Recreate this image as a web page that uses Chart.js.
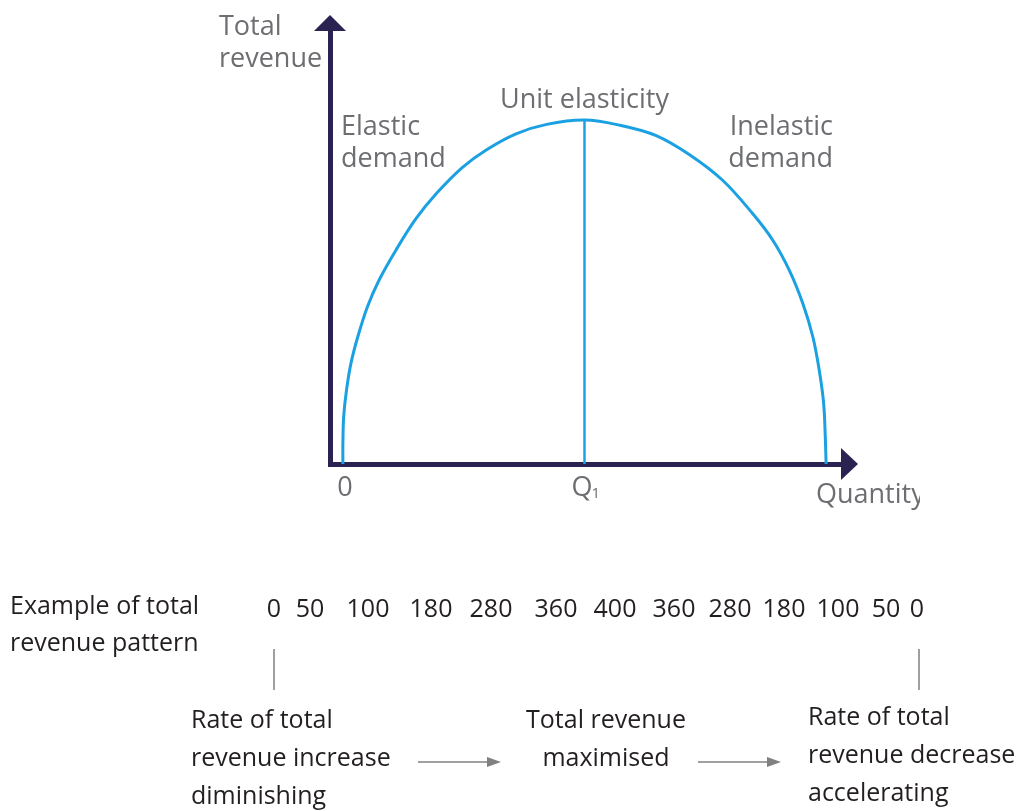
<!DOCTYPE html>
<html>
<head>
<meta charset="utf-8">
<script src="https://cdn.jsdelivr.net/npm/chart.js@4.4.1/dist/chart.umd.min.js"></script>
<style>
  body { margin: 0; background: #fff; }
  #wrap { position: relative; width: 1021px; height: 811px; overflow: hidden; font-family: "Open Sans", sans-serif; color: #231f20; }
  #c { position: absolute; left: 0; top: 0; }
  .txt { position: absolute; font-size: 25px; line-height: 38px; white-space: nowrap; }
  .num { position: absolute; top: 588px; font-size: 25px; line-height: 38px; transform: translateX(-50%); }
</style>
</head>
<body>
<div id="wrap">
  <canvas id="c" width="1021" height="811"></canvas>
  <div class="txt" style="left:10px; top:586px; line-height:37px;">Example of total<br>revenue pattern</div>
  <div id="pattern"></div>
  <div class="txt" style="left:191px; top:699px;">Rate of total<br>revenue increase<br>diminishing</div>
  <div class="txt" style="left:516px; top:699px; text-align:center; width:180px;">Total revenue<br>maximised</div>
  <div class="txt" style="left:808px; top:696px;">Rate of total<br>revenue decrease<br>accelerating</div>
</div>
<script>
// total revenue curve (quantity units, revenue units with peak = 400)
const quantity = [0, 0, 0.02, 0.09, 0.2, 0.37, 0.61, 0.9, 1.32, 1.81, 2.31, 2.97, 3.55, 4.3, 5.06, 6,
                  6.88, 7.78, 8.6, 9.43, 10.18, 10.68, 11.09, 11.42, 11.67, 11.83, 11.94, 11.98, 12];
const revenue  = [0, 24, 55, 86, 117, 148, 183, 214, 249, 285, 314, 345, 365, 384, 395, 400,
                  394, 382, 360, 330, 291, 260, 225, 187, 148, 109, 70, 31, 0];

// unit elasticity point
const q1 = 6;
const maxRevenue = 400;

// example row under the chart
const revenuePattern = [0, 50, 100, 180, 280, 360, 400, 360, 280, 180, 100, 50, 0];
const patternX = [274, 310, 368, 431, 491, 556, 615, 674, 730, 784, 838, 886, 917];

const navy = '#2a2352';
const blue = '#1ba1e2';
const grey = '#6d6e71';

// numbers row as text
const row = document.getElementById('pattern');
revenuePattern.forEach((v, i) => {
    const s = document.createElement('span');
    s.className = 'num';
    s.style.left = patternX[i] + 'px';
    s.textContent = v;
    row.appendChild(s);
});

function arrow(ctx, x1, x2, y) {
    ctx.beginPath();
    ctx.moveTo(x1, y);
    ctx.lineTo(x2 - 12, y);
    ctx.stroke();
    ctx.beginPath();
    ctx.moveTo(x2, y);
    ctx.lineTo(x2 - 14, y - 5);
    ctx.lineTo(x2 - 14, y + 5);
    ctx.closePath();
    ctx.fill();
}

const decor = {
    id: 'decor',
    afterDraw(chart) {
        const {ctx, chartArea: a, scales: {x}} = chart;
        ctx.save();
        // arrow heads on the axes
        ctx.fillStyle = navy;
        ctx.beginPath();
        ctx.moveTo(a.left, a.top - 16);
        ctx.lineTo(a.left - 16, a.top);
        ctx.lineTo(a.left + 16, a.top);
        ctx.closePath();
        ctx.fill();
        ctx.beginPath();
        ctx.moveTo(a.right + 17, a.bottom);
        ctx.lineTo(a.right, a.bottom - 16);
        ctx.lineTo(a.right, a.bottom + 16);
        ctx.closePath();
        ctx.fill();

        // labels
        ctx.fillStyle = grey;
        ctx.font = '27px "Open Sans"';
        ctx.textAlign = 'left';
        ctx.fillText('Total', 219, 35);
        ctx.fillText('revenue', 219, 67);
        ctx.fillText('Elastic', 341, 135);
        ctx.fillText('demand', 341, 167);
        ctx.textAlign = 'right';
        ctx.fillText('Inelastic', 833, 135);
        ctx.fillText('demand', 833, 167);
        ctx.textAlign = 'center';
        const qx = x.getPixelForValue(q1);
        ctx.fillText('Unit elasticity', qx, 108);
        ctx.fillText('0', x.getPixelForValue(0) + 2, 496);
        ctx.textAlign = 'left';
        ctx.fillText('Q', qx - 13, 496);
        ctx.font = '15px "Open Sans"';
        ctx.fillText('1', qx + 7, 498);
        ctx.font = '27px "Open Sans"';
        ctx.beginPath();
        ctx.rect(0, 0, 920, 811);
        ctx.clip();
        ctx.fillText('Quantity', 816, 503);
        ctx.restore();

        // bottom connectors
        ctx.save();
        ctx.strokeStyle = '#808080';
        ctx.fillStyle = '#808080';
        ctx.lineWidth = 1.5;
        ctx.beginPath();
        ctx.moveTo(274, 649);
        ctx.lineTo(274, 690);
        ctx.moveTo(919, 649);
        ctx.lineTo(919, 690);
        ctx.stroke();
        arrow(ctx, 418, 501, 762);
        arrow(ctx, 698, 781, 762);
        ctx.restore();
    }
};

new Chart(document.getElementById('c'), {
    type: 'scatter',
    data: {
        datasets: [{
            data: quantity.map((q, i) => ({x: q, y: revenue[i]})),
            showLine: true,
            borderColor: blue,
            borderWidth: 3,
            pointRadius: 0,
            tension: 0.35
        }, {
            data: [{x: q1, y: 0}, {x: q1, y: maxRevenue}],
            showLine: true,
            borderColor: blue,
            borderWidth: 2.5,
            pointRadius: 0
        }]
    },
    options: {
        responsive: false,
        devicePixelRatio: 1,
        animation: false,
        layout: { padding: { left: 330, right: 180, top: 31, bottom: 347 } },
        plugins: { legend: { display: false }, tooltip: { enabled: false } },
        scales: {
            x: {
                type: 'linear', min: -0.32, max: 12.37, z: 1,
                grid: { display: false, drawTicks: false },
                border: { display: true, color: navy, width: 5 },
                ticks: { display: false }
            },
            y: {
                type: 'linear', min: 0, max: 503.6, z: 1,
                grid: { display: false, drawTicks: false },
                border: { display: true, color: navy, width: 5 },
                ticks: { display: false }
            }
        }
    },
    plugins: [decor]
});
</script>
</body>
</html>
